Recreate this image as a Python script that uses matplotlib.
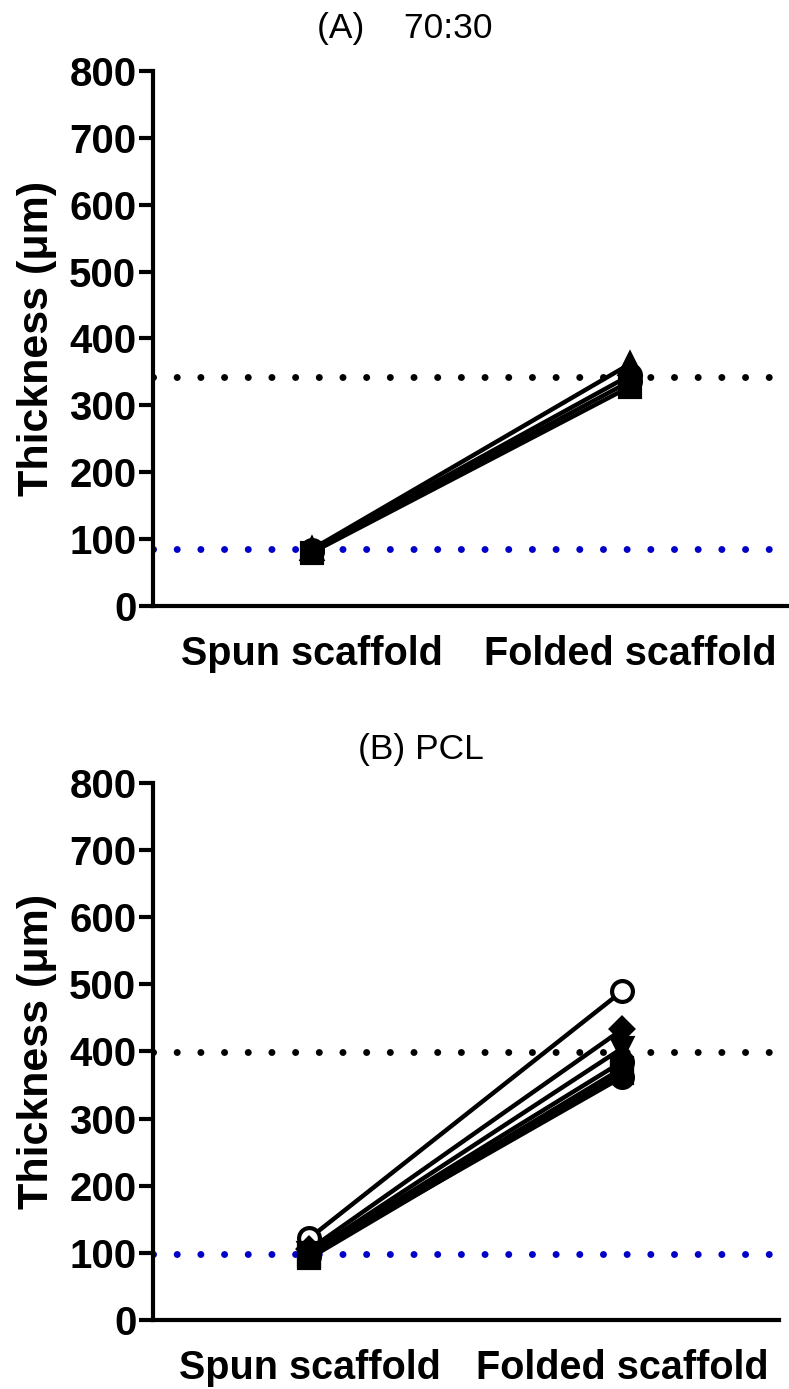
import numpy as np
import matplotlib.pyplot as plt

plt.rcParams['font.family'] = ['Liberation Sans', 'DejaVu Sans']

groups = ["Spun scaffold", "Folded scaffold"]

# panel A: 70:30 blend, one row per sample (spun, folded)
a_vals = [[85, 362], [84, 345], [82, 336], [80, 328]]
a_marks = ['^', 'o', 'o', 's']
a_fill = [True, True, True, True]
a_means = [85, 342]

# panel B: PCL
b_vals = [[122, 490], [105, 433], [100, 405], [98, 385], [95, 375], [92, 368], [96, 362]]
b_marks = ['o', 'D', 'v', 'o', 's', 's', 'o']
b_fill = [False, True, True, True, True, True, True]
b_means = [98, 399]

fig = plt.figure(figsize=(7.89, 13.89), dpi=100)
ax_a = fig.add_axes([0.194, 0.5637, 0.806, 0.3852])
ax_b = fig.add_axes([0.194, 0.0497, 0.793, 0.3866])


def draw(ax, vals, marks, fill, means, title, tx, ty):
    x = np.arange(len(groups))
    ax.axhline(means[1], color='black', lw=5, ls=(0, (0.01, 3.4)),
               dash_capstyle='round', zorder=1)
    ax.axhline(means[0], color='#0000c8', lw=5, ls=(0, (0.01, 3.4)),
               dash_capstyle='round', zorder=1)
    for v, m, f in zip(vals, marks, fill):
        ms = 15 if m != 'D' else 11
        ax.plot(x, v, color='black', lw=3.2, marker=m, ms=ms,
                mfc='black' if f else 'white', mec='black', mew=3, zorder=3)
    ax.set_xlim(-0.5, 1.5)
    ax.set_ylim(0, 800)
    ax.set_yticks(np.arange(0, 801, 100))
    ax.set_xticks(x)
    ax.set_xticklabels(groups, fontsize=28.5, fontweight='bold')
    ax.tick_params(axis='x', length=0, pad=21)
    ax.tick_params(axis='y', length=10, width=3, labelsize=29, pad=2)
    for lab in ax.get_yticklabels():
        lab.set_fontweight('bold')
    ax.spines['top'].set_visible(False)
    ax.spines['right'].set_visible(False)
    ax.spines['left'].set_linewidth(3)
    ax.spines['bottom'].set_linewidth(3)
    ax.set_ylabel('Thickness (μm)', fontsize=31, fontweight='bold', labelpad=9)
    ax.text(tx, ty, title, transform=ax.transAxes, fontsize=25.5,
            ha='center', va='center')


draw(ax_a, a_vals, a_marks, a_fill, a_means, '(A)    70:30', 0.396, 1.08)
draw(ax_b, b_vals, b_marks, b_fill, b_means, '(B) PCL', 0.428, 1.062)

fig.savefig('out.png', dpi=100)
